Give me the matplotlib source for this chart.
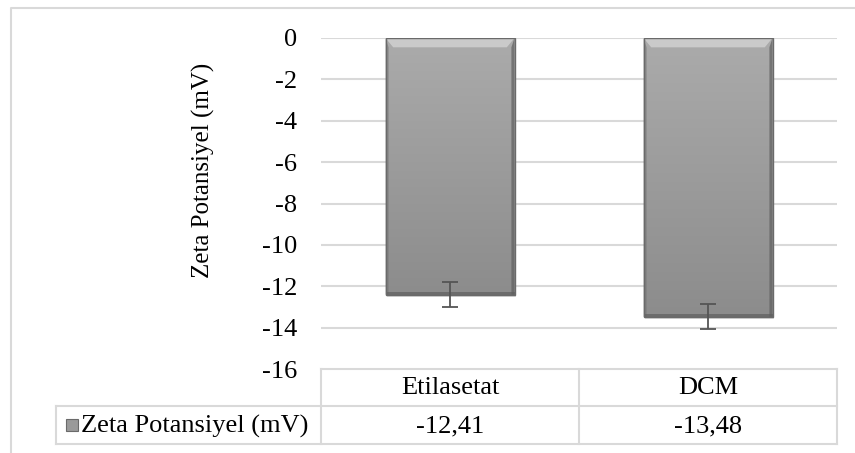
import numpy as np
import matplotlib
matplotlib.use('Agg')
import matplotlib.pyplot as plt
from matplotlib.patches import Rectangle, Polygon
from matplotlib.lines import Line2D
from matplotlib.colors import LinearSegmentedColormap

# data
categories = ['Etilasetat', 'DCM']
values = [-12.41, -13.48]
errors = [0.6, 0.6]
value_labels = ['-12,41', '-13,48']
series_name = 'Zeta Potansiyel (mV)'
yticks = [0, -2, -4, -6, -8, -10, -12, -14, -16]

plt.rcParams['font.family'] = ['Liberation Serif', 'DejaVu Serif']
W, H = 855, 453
fs = 19
fig = plt.figure(figsize=(W / 100, H / 100), dpi=100)

def fx(x):
    return x / W

def fy(y):
    return 1 - y / H

# plot area in pixels
left, right, top, bottom = 321, 837, 38, 369
ax = fig.add_axes([fx(left), fy(bottom), fx(right) - fx(left), fy(top) - fy(bottom)])
ax.set_xlim(-0.5, len(categories) - 0.5)
ax.set_ylim(-16, 0)
for s in ax.spines.values():
    s.set_visible(False)
ax.set_xticks([])
ax.set_yticks(yticks)
ax.set_yticklabels([str(t) for t in yticks], fontsize=fs)
ax.tick_params(axis='y', length=0, pad=17)
for t in yticks[:-1]:
    ax.axhline(t, color='#d9d9d9', lw=1.5, zorder=0)
ax.set_ylabel(series_name, fontsize=fs - 1)
ax.yaxis.set_label_coords(-0.205, 0.6)

# bars with a bevel look
grad = np.linspace(0, 1, 256).reshape(-1, 1)
cmap = LinearSegmentedColormap.from_list('g', ['#ababab', '#8c8c8c'])
x = np.arange(len(categories))
bw = 0.5
bars = ax.bar(x, values, width=bw, color='#999999', edgecolor='none', zorder=2)
for b in bars:
    x0 = b.get_x()
    w = b.get_width()
    x1 = x0 + w
    y1 = b.get_y() + b.get_height()
    # soft shadow
    ax.add_patch(Rectangle((x0 + 0.006, y1 - 0.12), w, -y1,
                           facecolor='#000000', alpha=0.13, lw=0, zorder=1))
    im = ax.imshow(grad, cmap=cmap, extent=[x0, x1, y1, 0], aspect='auto', zorder=2.5)
    im.set_clip_path(b)
    dx, dy = 0.03, 0.45
    # top bevel (light)
    ax.add_patch(Polygon([(x0, 0), (x1, 0), (x1 - dx, -dy), (x0 + dx, -dy)],
                         facecolor='#d6d6d6', alpha=0.75, lw=0, zorder=2.6))
    # side bevels (dark)
    ax.add_patch(Polygon([(x0, 0), (x0 + 0.012, -dy), (x0 + 0.012, y1), (x0, y1)],
                         facecolor='#6f6f6f', alpha=0.55, lw=0, zorder=2.6))
    ax.add_patch(Polygon([(x1, 0), (x1 - 0.012, -dy), (x1 - 0.012, y1), (x1, y1)],
                         facecolor='#5f5f5f', alpha=0.7, lw=0, zorder=2.6))
    ax.add_patch(Rectangle((x0, y1), w, 0.12, facecolor='#5f5f5f', alpha=0.7,
                           lw=0, zorder=2.6))
    ax.add_patch(Rectangle((x0, y1), w, -y1, facecolor='none', edgecolor='#6a6a6a',
                           lw=1.0, zorder=2.7))
ax.errorbar(x, values, yerr=errors, fmt='none', ecolor='#555555', elinewidth=1.3,
            capsize=6, capthick=1.3, zorder=3)

# overlay in pixel coordinates for frame and table
ov = fig.add_axes([0, 0, 1, 1])
ov.set_xlim(0, W)
ov.set_ylim(H, 0)
ov.axis('off')
ov.patch.set_alpha(0)
lc = '#d9d9d9'
# outer frame
ov.add_line(Line2D([11, 11, W + 5], [H + 5, 8, 8], color=lc, lw=1.5))

# table
row1, row2, row3 = 369, 406, 444
mid = (left + right) / 2
lab_left = 56
cols = [left, mid, right]
ov.add_line(Line2D([left, right], [row1, row1], color=lc, lw=1.5))
ov.add_line(Line2D([lab_left, right], [row2, row2], color=lc, lw=1.5))
ov.add_line(Line2D([lab_left, right], [row3, row3], color=lc, lw=1.5))
for c in cols:
    ov.add_line(Line2D([c, c], [row1, row3], color=lc, lw=1.5))
ov.add_line(Line2D([lab_left, lab_left], [row2, row3], color=lc, lw=1.5))
for i, (cat, vl) in enumerate(zip(categories, value_labels)):
    cx = (cols[i] + cols[i + 1]) / 2
    ov.text(cx, (row1 + row2) / 2 + 1, cat, ha='center', va='center', fontsize=fs)
    ov.text(cx, (row2 + row3) / 2 + 1, vl, ha='center', va='center', fontsize=fs)
# legend key
ov.add_patch(Rectangle((66, 419), 12, 12, facecolor='#9a9a9a', edgecolor='#6a6a6a', lw=0.8))
ov.text(81, (row2 + row3) / 2 + 1, series_name, ha='left', va='center', fontsize=fs)

fig.savefig('out.png', dpi=100)
